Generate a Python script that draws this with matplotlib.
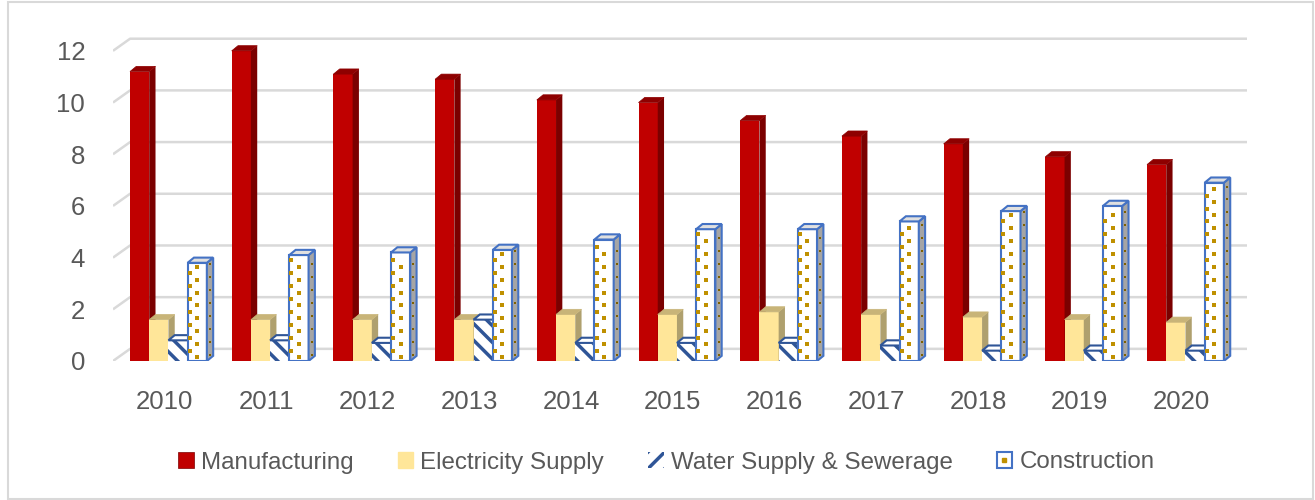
import numpy as np
import matplotlib
matplotlib.use("Agg")
import matplotlib.pyplot as plt
from matplotlib.patches import Polygon, Patch, Rectangle
from matplotlib.lines import Line2D

# data
years = ["2010", "2011", "2012", "2013", "2014", "2015", "2016", "2017", "2018", "2019", "2020"]
manufacturing = [11.2, 12.0, 11.1, 10.9, 10.1, 10.0, 9.3, 8.7, 8.4, 7.9, 7.6]
electricity = [1.6, 1.6, 1.6, 1.6, 1.8, 1.8, 1.9, 1.8, 1.7, 1.6, 1.5]
water = [0.8, 0.8, 0.7, 1.6, 0.7, 0.7, 0.7, 0.6, 0.4, 0.4, 0.4]
construction = [3.8, 4.1, 4.2, 4.3, 4.7, 5.1, 5.1, 5.4, 5.8, 6.0, 6.9]
yticks = [0, 2, 4, 6, 8, 10, 12]

TXT = "#595959"
GRID = "#D9D9D9"
BLUE = "#4472C4"
DKBLUE = "#2F5597"
GOLD = "#BF9000"

plt.rcParams["hatch.linewidth"] = 2.5
font = ["Liberation Sans", "DejaVu Sans"]

fig = plt.figure(figsize=(13.15, 5.0), dpi=100)
ax = fig.add_axes([113 / 1315, 139 / 500, 1134 / 1315, 336 / 500])

x = np.arange(len(years))
w = 0.189
DX, DY = 0.062, 0.2       # bar depth
WDX, WDY = 0.168, 0.47    # back wall offset
shift = 0.04


def bars3d(xc, vals, front, side, top, edge=None, lw=0, hatch=None, hcolor=None, z=2):
    ec = edge if edge is not None else (hcolor if hcolor else front)
    ax.bar(xc, vals, width=w, color=front, edgecolor=ec, linewidth=lw,
           hatch=hatch, zorder=z)
    for xi, v in zip(xc, vals):
        r = xi + w / 2
        l = xi - w / 2
        ax.add_patch(Polygon([(r, 0), (r + DX, DY), (r + DX, v + DY), (r, v)],
                             closed=True, facecolor=side, edgecolor=ec,
                             linewidth=lw, hatch=hatch, zorder=z))
        ax.add_patch(Polygon([(l, v), (r, v), (r + DX, v + DY), (l + DX, v + DY)],
                             closed=True, facecolor=top,
                             edgecolor=edge if edge is not None else top,
                             linewidth=lw if edge is not None else 0.5, zorder=z))


bars3d(x + shift - 1.5 * w, manufacturing, "#C00000", "#7B0000", "#8E0000", z=3)
bars3d(x + shift - 0.5 * w, electricity, "#FFE699", "#AFA06E", "#C8B478", z=4)
bars3d(x + shift + 0.5 * w, water, "white", "white", "white", hatch="\\\\",
       hcolor=DKBLUE, z=5)
# outline the water tops
for xi, v in zip(x + shift + 0.5 * w, water):
    l, r = xi - w / 2, xi + w / 2
    ax.add_patch(Polygon([(l, v), (r, v), (r + DX, v + DY), (l + DX, v + DY)],
                         closed=True, facecolor="white", edgecolor=DKBLUE,
                         linewidth=1.5, zorder=5))
bars3d(x + shift + 1.5 * w, construction, "white", "#A5A5A5", "#E0E0E0",
       edge=BLUE, lw=1.5, z=6)

# dotted fill of construction bars
for xi, v in zip(x + shift + 1.5 * w, construction):
    ys_a = np.arange(0.15, v - 0.1, 0.5)
    ys_b = np.arange(0.4, v - 0.1, 0.5)
    ax.scatter(np.full(len(ys_a), xi), ys_a, s=5, marker="s", color=GOLD,
               linewidths=0, zorder=7)
    ax.scatter(np.full(len(ys_b), xi - w / 2 + 0.02), ys_b, s=5, marker="s",
               color=GOLD, linewidths=0, zorder=7)
    ax.scatter(np.full(len(ys_a), xi + w / 2 + DX / 2), ys_a + DY / 2, s=4,
               marker="s", color="#7F6000", linewidths=0, zorder=7)

# back wall gridlines with the left wall corner
x0, x1 = -0.505, 10.645
for t in yticks:
    ax.plot([x0, x0 + WDX, x1], [t, t + WDY, t + WDY], color=GRID, lw=1.8,
            zorder=1, solid_capstyle="butt")

ax.set_xlim(x0, x1)
ax.set_ylim(0, 13.0)
ax.set_yticks(yticks)
ax.set_yticklabels([str(t) for t in yticks], family=font, fontsize=18.5, color=TXT)
ax.set_xticks(x)
ax.set_xticklabels(years, family=font, fontsize=18.5, color=TXT)
ax.tick_params(axis="y", length=0, pad=20)
ax.tick_params(axis="x", length=0, pad=21)
for s in ax.spines.values():
    s.set_visible(False)

handles = [
    Patch(facecolor="#C00000", edgecolor="#7B0000", linewidth=0.5),
    Patch(facecolor="#FFE699", edgecolor="#FFE699"),
    Patch(facecolor="white", edgecolor=DKBLUE, linewidth=0, hatch="//"),
    (Patch(facecolor="white", edgecolor=BLUE, linewidth=1.5),
     Line2D([], [], marker="s", markersize=2.5, color=GOLD, linestyle="none")),
]
labels = ["Manufacturing", "Electricity Supply", "Water Supply & Sewerage", "Construction"]
fig.legend(handles, labels, loc="center", bbox_to_anchor=(0.5068, 0.075), ncol=4,
           frameon=False, prop={"family": font, "size": 17.4},
           labelcolor=TXT, handlelength=0.64, handleheight=0.64,
           handletextpad=0.3, columnspacing=1.82)

fig.patches.append(Rectangle((8 / 1315, 1 / 500), 1305 / 1315, 497 / 500,
                             transform=fig.transFigure, fill=False,
                             edgecolor=GRID, linewidth=1.5))

fig.savefig("out.png", dpi=100)
